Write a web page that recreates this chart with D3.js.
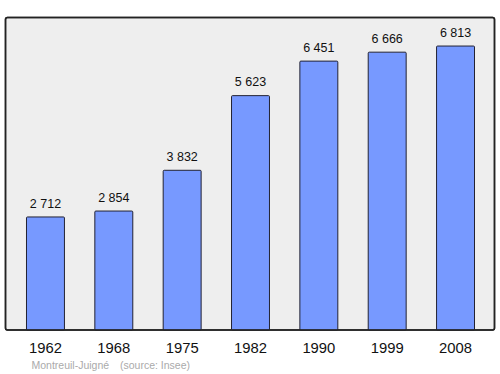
<!DOCTYPE html>
<html><head><meta charset="utf-8">
<script src="https://cdn.jsdelivr.net/npm/d3@7"></script>
<style>body{margin:0;background:#fff}svg{display:block}text{font-family:"Liberation Sans",Arial,sans-serif}</style>
</head><body>
<script>
const years = ["1962","1968","1975","1982","1990","1999","2008"];
const population = [2712,2854,3832,5623,6451,6666,6813];
const valueLabels = ["2 712","2 854","3 832","5 623","6 451","6 666","6 813"];

const W=500,H=374;
const svg=d3.select("body").append("svg").attr("width",W).attr("height",H);
svg.append("rect").attr("x",5.5).attr("y",17.5).attr("width",489).attr("height",312.5)
  .attr("rx",2).attr("fill","#eeeeee").attr("stroke","#222").attr("stroke-width",1.5);

const x=d3.scaleBand().domain(years).range([11.3,489.7]).paddingInner(0.43).paddingOuter(0.215);
const y=d3.scaleLinear().domain([0,7500]).range([330,17.4]);

svg.selectAll("rect.bar").data(years).join("rect").attr("class","bar")
  .attr("x",d=>x(d)+0.5).attr("width",x.bandwidth()-1)
  .attr("y",(d,i)=>y(population[i])).attr("height",(d,i)=>330-y(population[i]))
  .attr("fill","#7799ff").attr("stroke","#223").attr("stroke-width",1).attr("rx",1);

svg.selectAll("text.val").data(years).join("text").attr("class","val")
  .attr("x",d=>x(d)+x.bandwidth()/2).attr("y",(d,i)=>y(population[i])-9.4)
  .attr("text-anchor","middle").attr("font-size",12.5).attr("fill","#111")
  .text((d,i)=>valueLabels[i]);

svg.append("rect").attr("x",5.5).attr("y",17.5).attr("width",489).attr("height",312.5)
  .attr("rx",2).attr("fill","none").attr("stroke","#222").attr("stroke-width",1.5);

const ax=svg.append("g").attr("transform","translate(0,330)").call(d3.axisBottom(x).tickSize(0).tickPadding(0));
ax.select(".domain").remove();
ax.selectAll("text").attr("font-size",14.8).attr("fill","#111").attr("dy",null).attr("y",23)
  .attr("font-family","Liberation Sans, Arial, sans-serif");

svg.append("text").attr("x",31.5).attr("y",369).attr("font-size",10.5).attr("fill","#aaaaaa")
  .text("Montreuil-Juigné");
svg.append("text").attr("x",120).attr("y",369).attr("font-size",10.5).attr("fill","#aaaaaa")
  .text("(source: Insee)");
</script>
</body></html>
